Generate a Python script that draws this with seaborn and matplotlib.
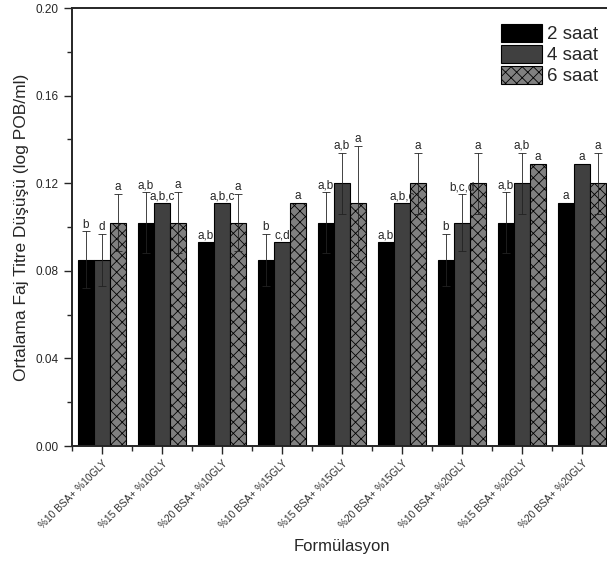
import numpy as np
import pandas as pd
import seaborn as sns
import matplotlib.pyplot as plt
from matplotlib.ticker import MultipleLocator

categories = ["%10 BSA+ %10GLY", "%15 BSA+ %10GLY", "%20 BSA+ %10GLY",
              "%10 BSA+ %15GLY", "%15 BSA+ %15GLY", "%20 BSA+ %15GLY",
              "%10 BSA+ %20GLY", "%15 BSA+ %20GLY", "%20 BSA+ %20GLY"]
times = ["2 saat", "4 saat", "6 saat"]
saat2 = [0.085, 0.102, 0.093, 0.085, 0.102, 0.093, 0.085, 0.102, 0.111]
saat4 = [0.085, 0.111, 0.111, 0.093, 0.120, 0.111, 0.102, 0.120, 0.129]
saat6 = [0.102, 0.102, 0.102, 0.111, 0.111, 0.120, 0.120, 0.129, 0.120]
err2 = [0.013, 0.014, 0, 0.012, 0.014, 0, 0.012, 0.014, 0]
err4 = [0.012, 0, 0, 0, 0.014, 0, 0.013, 0.014, 0]
err6 = [0.013, 0.014, 0.013, 0, 0.026, 0.014, 0.014, 0, 0.014]
lab2 = ["b", "a,b", "a,b", "b", "a,b", "a,b", "b", "a,b", "a"]
lab4 = ["d", "a,b,c", "a,b,c", "c,d", "a,b", "a,b,c", "b,c,d", "a,b", "a"]
lab6 = ["a", "a", "a", "a", "a", "a", "a", "a", "a"]

df = pd.DataFrame({
    "Formülasyon": categories * 3,
    "saat": [t for t in times for _ in categories],
    "deger": saat2 + saat4 + saat6,
})

sns.set_style("ticks")
plt.rcParams['font.family'] = ['Liberation Sans', 'DejaVu Sans']
plt.rcParams['hatch.color'] = '#1a1a1a'
plt.rcParams['hatch.linewidth'] = 0.6

fig = plt.figure(figsize=(6.07, 5.75), dpi=100)
ax = fig.add_axes([0.1186, 0.2243, 0.8896, 0.7617])

pal = {"2 saat": "#000000", "4 saat": "#404040", "6 saat": "#808080"}
sns.barplot(data=df, x="Formülasyon", y="deger", hue="saat", hue_order=times,
            palette=pal, errorbar=None, saturation=1, width=0.8,
            edgecolor="black", linewidth=0.8, legend=False, ax=ax)

for bar in ax.containers[2]:
    bar.set_hatch("xxx")

errs = [err2, err4, err6]
labs = [lab2, lab4, lab6]
for cont, e, lb in zip(ax.containers, errs, labs):
    xs = np.array([b.get_x() + b.get_width() / 2 for b in cont])
    hs = np.array([b.get_height() for b in cont])
    e = np.array(e)
    m = e > 0
    ax.errorbar(xs[m], hs[m], yerr=e[m], fmt='none', ecolor='#222222',
                elinewidth=0.6, capsize=3, capthick=0.6, zorder=4)
    for x, h, ee, t in zip(xs, hs, e, lb):
        ax.annotate(t, (x, h + ee), xytext=(0, 0.5), textcoords='offset points',
                    ha='center', va='bottom', fontsize=8.5)

ax.set_ylim(0, 0.20)
ax.set_xlim(-0.5, 8.5)
ax.yaxis.set_major_locator(MultipleLocator(0.04))
ax.yaxis.set_minor_locator(MultipleLocator(0.02))
ax.set_yticklabels([f"{v:.2f}" for v in ax.get_yticks()])
ax.set_xticks(np.arange(len(categories)))
ax.set_xticks(np.arange(len(categories)) - 0.5, minor=True)
ax.set_xticklabels(categories, rotation=45, ha='right', rotation_mode='anchor',
                   fontsize=7.3, color='#333333')
ax.tick_params(axis='y', which='major', length=6, width=1, labelsize=8.5, direction='out')
ax.tick_params(axis='y', which='minor', length=3.5, width=1, direction='out')
ax.tick_params(axis='x', which='major', length=6, width=1, direction='out', pad=3)
ax.tick_params(axis='x', which='minor', length=3.5, width=1, direction='out')
for s in ax.spines.values():
    s.set_visible(True)
    s.set_linewidth(1.4)

ax.set_ylabel("Ortalama Faj Titre Düşüşü (log POB/ml)", fontsize=12.5, labelpad=5)
ax.set_xlabel("Formülasyon", fontsize=12, labelpad=6)

ax.legend(ax.containers, times, loc='upper right', bbox_to_anchor=(0.997, 0.972),
          bbox_transform=fig.transFigure, frameon=False, fontsize=13.5,
          handlelength=2.2, handleheight=1.1, labelspacing=0.1,
          handletextpad=0.25, borderaxespad=0)

fig.savefig("out.png", dpi=100)
